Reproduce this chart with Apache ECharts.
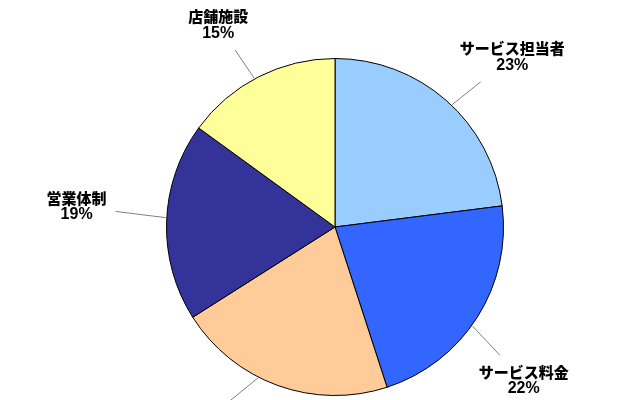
<!DOCTYPE html>
<html>
<head>
<meta charset="utf-8">
<script src="https://cdn.jsdelivr.net/npm/echarts@6/dist/echarts.min.js"></script>
<style>
html,body{margin:0;padding:0;background:#fff;}
#chart{width:640px;height:400px;}
</style>
</head>
<body>
<div id="chart"></div>
<script>
const categories = ['サービス担当者', 'サービス料金', '商品', '営業体制', '店舗施設'];
const values = [23, 22, 21, 19, 15];
const colors = ['#99CCFF', '#3366FF', '#FFCC99', '#333399', '#FFFF99'];

// layout only: label nudge (px) from the library's radial leader-line end
const labelNudge = [[42, -17], [16, 44], [-66, 6], [-54, -14], [-24, -20]];

const chart = echarts.init(document.getElementById('chart'), null, {renderer: 'canvas'});
const CX = 335, CY = 227, R = 168.5, GAP = 9;

const data = categories.map((name, i) => ({
  name: name,
  value: values[i],
  itemStyle: {color: colors[i]}
}));

function norm(v) {
  const l = Math.sqrt(v[0] * v[0] + v[1] * v[1]) || 1;
  return [v[0] / l, v[1] / l];
}

chart.setOption({
  backgroundColor: '#ffffff',
  animation: false,
  series: [{
    type: 'pie',
    center: [CX, CY],
    radius: R,
    startAngle: 90,
    clockwise: true,
    avoidLabelOverlap: false,
    data: data,
    itemStyle: {borderColor: '#000000', borderWidth: 1},
    label: {
      show: true,
      position: 'outside',
      formatter: '{n|{b}}\n{p|{c}%}',
      color: '#000000',
      rich: {
        n: {
          fontFamily: '"Noto Sans CJK JP", sans-serif',
          fontWeight: 900,
          fontSize: 15,
          lineHeight: 17,
          color: '#000000'
        },
        p: {
          fontFamily: '"Liberation Sans", Arial, sans-serif',
          fontWeight: 'bold',
          fontSize: 16,
          lineHeight: 17,
          color: '#000000'
        }
      }
    },
    labelLine: {
      show: true,
      length: 36,
      length2: 0,
      lineStyle: {color: '#808080', width: 1}
    },
    labelLayout: function (params) {
      const pts = params.labelLinePoints;
      if (!pts) return {};
      const end = pts[pts.length - 1];
      const nd = labelNudge[params.dataIndex] || [0, 0];
      const L = [end[0] + nd[0], end[1] + nd[1]];
      const uMid = norm([pts[0][0] - CX, pts[0][1] - CY]);
      const uLab = norm([L[0] - CX, L[1] - CY]);
      const uS = norm([uMid[0] + uLab[0], uMid[1] + uLab[1]]);
      const start = [CX + (R + 1) * uS[0], CY + (R + 1) * uS[1]];
      const d = [start[0] - L[0], start[1] - L[1]];
      const hw = params.labelRect.width / 2 + GAP;
      const hh = params.labelRect.height / 2 + GAP;
      const sx = Math.abs(d[0]) > 1e-6 ? hw / Math.abs(d[0]) : 1e9;
      const sy = Math.abs(d[1]) > 1e-6 ? hh / Math.abs(d[1]) : 1e9;
      const s = Math.min(sx, sy, 1);
      const lineEnd = [L[0] + s * d[0], L[1] + s * d[1]];
      return {
        x: L[0],
        y: L[1],
        align: 'center',
        verticalAlign: 'middle',
        labelLinePoints: [start, lineEnd, lineEnd]
      };
    }
  }]
});
</script>
</body>
</html>
